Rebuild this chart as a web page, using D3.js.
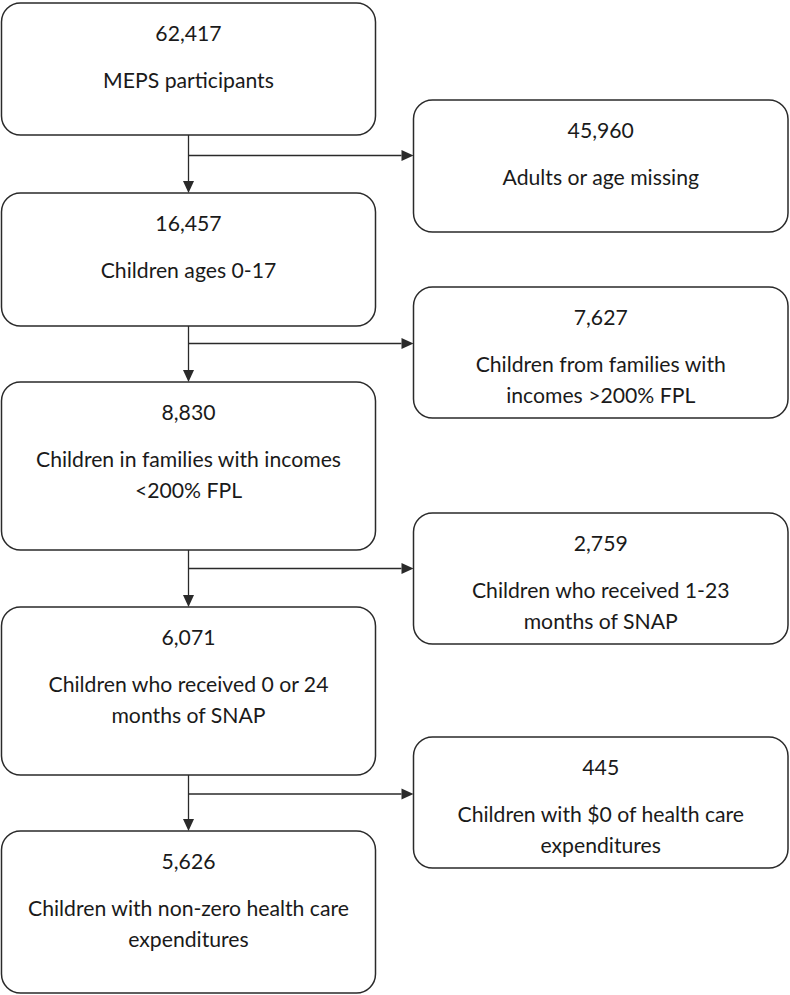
<!DOCTYPE html>
<html>
<head>
<meta charset="utf-8">
<script src="https://cdn.jsdelivr.net/npm/d3@7"></script>
<style>
  html, body { margin: 0; padding: 0; background: #ffffff; }
  svg { display: block; }
  text { font-family: Lato, "Open Sans", sans-serif; fill: #1a1a1a; }
</style>
</head>
<body>
<script>
// ---- data ----
const mainCounts = ["62,417", "16,457", "8,830", "6,071", "5,626"];
const mainLabels = [
  ["MEPS participants"],
  ["Children ages 0-17"],
  ["Children in families with incomes", "<200% FPL"],
  ["Children who received 0 or 24", "months of SNAP"],
  ["Children with non-zero health care", "expenditures"]
];
const excludedCounts = ["45,960", "7,627", "2,759", "445"];
const excludedLabels = [
  ["Adults or age missing"],
  ["Children from families with", "incomes >200% FPL"],
  ["Children who received 1-23", "months of SNAP"],
  ["Children with $0 of health care", "expenditures"]
];

// ---- layout ----
const W = 790, H = 995;
const mainTops = [3, 193, 382, 607, 831];
const mainBottoms = [135, 326, 550, 775, 993];
const exclTops = [100, 287, 513, 737];
const exclBottoms = [232, 418, 644, 868];
const branchY = [155.5, 343.5, 568.5, 794];

const colX = d3.scaleOrdinal().domain(["main", "excl"]).range([1.5, 413.5]);
const colW = { main: 374, excl: 374.5 };
const stroke = "#2a2a2a";
const fontSize = 21.2;

const svg = d3.select("body").append("svg").attr("width", W).attr("height", H);

const mainBoxes = mainCounts.map((c, i) => ({
  kind: "main", count: c, lines: mainLabels[i], top: mainTops[i], bottom: mainBottoms[i]
}));
const exclBoxes = excludedCounts.map((c, i) => ({
  kind: "excl", count: c, lines: excludedLabels[i], top: exclTops[i], bottom: exclBottoms[i]
}));
const boxes = mainBoxes.concat(exclBoxes);

const g = svg.selectAll("g.box").data(boxes).join("g").attr("class", "box");
g.append("rect")
  .attr("x", d => colX(d.kind))
  .attr("y", d => d.top)
  .attr("width", d => colW[d.kind])
  .attr("height", d => d.bottom - d.top)
  .attr("rx", 19).attr("ry", 19)
  .attr("fill", "#fff")
  .attr("stroke", stroke)
  .attr("stroke-width", 1.5);

g.append("text")
  .attr("x", d => colX(d.kind) + colW[d.kind] / 2)
  .attr("y", d => d.top + 31)
  .attr("dy", "0.35em")
  .attr("text-anchor", "middle")
  .attr("font-size", fontSize)
  .text(d => d.count);

g.each(function(d) {
  d3.select(this).selectAll("text.line").data(d.lines).join("text")
    .attr("class", "line")
    .attr("x", colX(d.kind) + colW[d.kind] / 2)
    .attr("y", (l, j) => d.top + 78 + j * 31)
    .attr("dy", "0.35em")
    .attr("text-anchor", "middle")
    .attr("font-size", fontSize)
    .text(l => l);
});

// ---- connectors ----
const cx = colX("main") + colW.main / 2;
const ex = colX("excl");
const ah = 12, aw = 5.5;

for (let i = 0; i < mainBoxes.length - 1; i++) {
  const y0 = mainBottoms[i], y1 = mainTops[i + 1];
  svg.append("line").attr("x1", cx).attr("x2", cx).attr("y1", y0).attr("y2", y1 - ah)
    .attr("stroke", stroke).attr("stroke-width", 1.3);
  svg.append("path")
    .attr("d", `M${cx - aw},${y1 - ah}L${cx + aw},${y1 - ah}L${cx},${y1}Z`)
    .attr("fill", stroke);
  const by = branchY[i];
  svg.append("line").attr("x1", cx).attr("x2", ex - ah).attr("y1", by).attr("y2", by)
    .attr("stroke", stroke).attr("stroke-width", 1.3);
  svg.append("path")
    .attr("d", `M${ex - ah},${by - aw}L${ex - ah},${by + aw}L${ex},${by}Z`)
    .attr("fill", stroke);
}
</script>
</body>
</html>
